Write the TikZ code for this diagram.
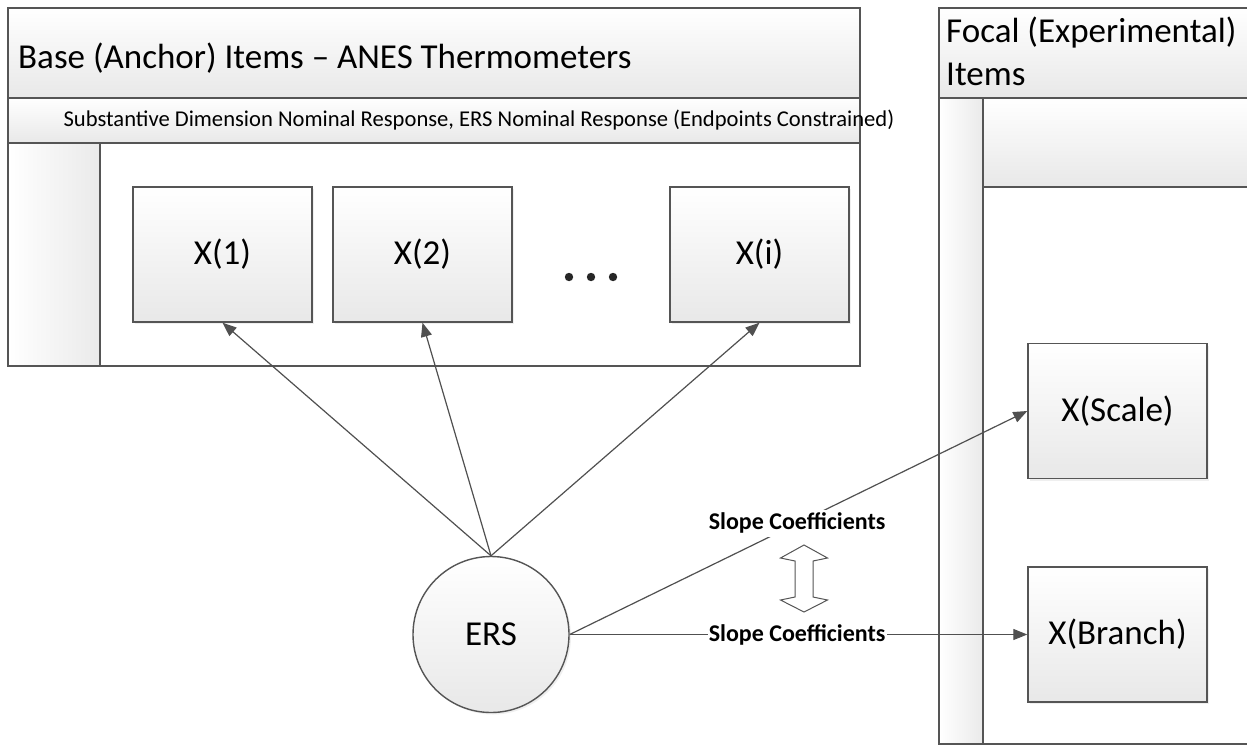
\documentclass[tikz,border=0pt]{standalone}
\usepackage{fontspec}
\setmainfont{Carlito}
\usetikzlibrary{arrows.meta,shadows}

\definecolor{edgec}{HTML}{555555}
\definecolor{linec}{HTML}{505050}
\definecolor{shadeb}{HTML}{E8E8E8}
\definecolor{stripc}{HTML}{EAEAEA}

\tikzset{
  x=1pt, y=1pt,
  frame/.style={draw=edgec, line width=1.3pt},
  band/.style={frame, top color=white, bottom color=shadeb},
  strip/.style={frame, left color=white, right color=stripc},
  itembox/.style={draw=edgec, line width=1.4pt, top color=white, bottom color=shadeb,
    minimum width=179pt, minimum height=135pt, inner sep=0pt,
    font=\fontsize{35}{40}\selectfont,
    drop shadow={opacity=0.12, shadow xshift=2pt, shadow yshift=-2pt}},
  latent/.style={circle, draw=edgec, line width=1.4pt, top color=white, bottom color=shadeb,
    minimum size=156pt, inner sep=0pt, font=\fontsize{35}{40}\selectfont,
    drop shadow={opacity=0.12, shadow xshift=2pt, shadow yshift=-2pt}},
  conn/.style={draw=linec, line width=1.2pt, -{Triangle[length=14pt,width=11pt]}},
  slopelbl/.style={fill=white, inner xsep=1pt, inner ysep=3pt,
    font=\bfseries\fontsize{24}{28}\selectfont},
}

\begin{document}
\begin{tikzpicture}
\clip (0,0) rectangle (1247,-745);
\fill[white] (0,0) rectangle (1247,-745);

% ---- left pool: anchor items ----
\path[band] (8,-8) rectangle (860,-98);
\path[band] (8,-98) rectangle (860,-143);
\path[frame, fill=white] (8,-143) rectangle (860,-366);
\path[strip] (8,-143) rectangle (100,-366);
\node[anchor=base west, font=\fontsize{35}{40}\selectfont, inner sep=0pt] (basetitle) at (18,-68)
  {Base (Anchor) Items -- ANES Thermometers};
\node[font=\fontsize{22.6}{26}\selectfont, inner sep=0pt] (subtitle) at (479,-120)
  {Substantive Dimension Nominal Response, ERS Nominal Response (Endpoints Constrained)};

% ---- right pool: focal items ----
\path[band] (939,-8) rectangle (1260,-98);
\path[frame, fill=white] (939,-98) rectangle (1260,-744);
\path[band] (983,-98) rectangle (1260,-187);
\path[strip] (939,-98) rectangle (983,-744);
\node[anchor=base west, align=left, inner sep=0pt,
  font=\fontsize{35}{43}\selectfont] (focaltitle) at (946,-85)
  {Focal (Experimental)\\Items};

% ---- indicator boxes ----
\node[itembox] (x1) at (222.5,-254.5) {X(1)};
\node[itembox] (x2) at (422.5,-254.5) {X(2)};
\node[itembox] (xi) at (759.5,-254.5) {X(i)};
\fill[black!85] (569,-277) circle (4.2) (591,-277) circle (4.2) (613,-277) circle (4.2);

\node[itembox, minimum width=179pt] (xscale) at (1117.5,-411) {X(Scale)};
\node[itembox, minimum width=179pt] (xbranch) at (1117.5,-634.5) {X(Branch)};

% ---- latent trait ----
\node[latent] (ers) at (491,-634.5) {ERS};

% ---- loadings ----
\draw[conn] (ers.north) -- (x1.south);
\draw[conn] (ers.north) -- (x2.south);
\draw[conn] (ers.north) -- (xi.south);
\draw[conn] (ers.east) -- node[slopelbl, pos=0.497] (slopeA) {Slope Coefficients} (xscale.west);
\draw[conn] (ers.east) -- node[slopelbl, pos=0.497] (slopeB) {Slope Coefficients} (xbranch.west);

% ---- comparison of slopes ----
\draw[edgec, line width=1pt, fill=white, line join=miter]
  (804,-545) -- (827.5,-558) -- (813,-561) -- (813,-597) -- (827.5,-600) -- (804,-612)
  -- (780.5,-600) -- (795,-597) -- (795,-561) -- (780.5,-558) -- cycle;
\end{tikzpicture}
\end{document}
